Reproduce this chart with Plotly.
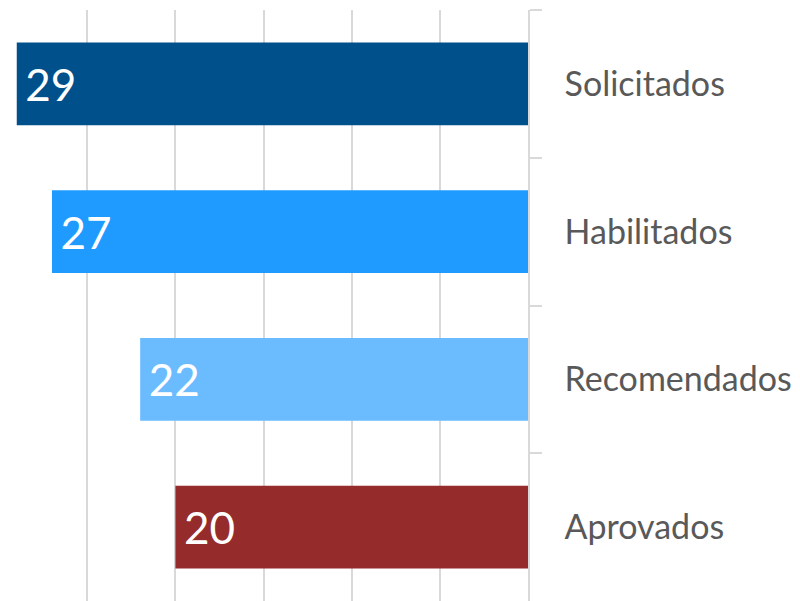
import plotly.graph_objects as go

categories = ["Solicitados", "Habilitados", "Recomendados", "Aprovados"]
values = [29, 27, 22, 20]
colors = ["#00508C", "#1F9BFF", "#6BBCFF", "#962B2B"]

fig = go.Figure(go.Bar(
    x=values,
    y=categories,
    orientation="h",
    marker=dict(color=colors, line=dict(width=0)),
    text=[f"\u2009{v}" for v in values],
    textposition="inside",
    insidetextanchor="end",
    textangle=0,
    textfont=dict(family="Lato", size=44, color="white"),
    width=0.56,
    hoverinfo="skip",
))

fig.update_layout(
    width=800, height=601,
    margin=dict(l=0, r=272, t=10, b=0),
    paper_bgcolor="white", plot_bgcolor="white",
    showlegend=False,
    xaxis=dict(
        range=[29.95, 0],
        dtick=5, tick0=0,
        showgrid=True, gridcolor="#D9D9D9", gridwidth=1.5,
        zeroline=False,
        showticklabels=False,
        ticks="",
        showline=False,
    ),
    yaxis=dict(
        side="right",
        categoryorder="array",
        categoryarray=categories,
        autorange="reversed",
        showline=True, linecolor="#D9D9D9", linewidth=1.5,
        ticks="outside", tickson="boundaries", ticklen=12,
        tickcolor="#D9D9D9", tickwidth=1.5,
        ticklabelstandoff=28,
        tickfont=dict(family="Lato", size=34, color="#595959"),
        showgrid=False,
        zeroline=False,
    ),
)

fig.write_html("out.html", config={"displayModeBar": False},
               post_script="document.body.style.margin='0';")
